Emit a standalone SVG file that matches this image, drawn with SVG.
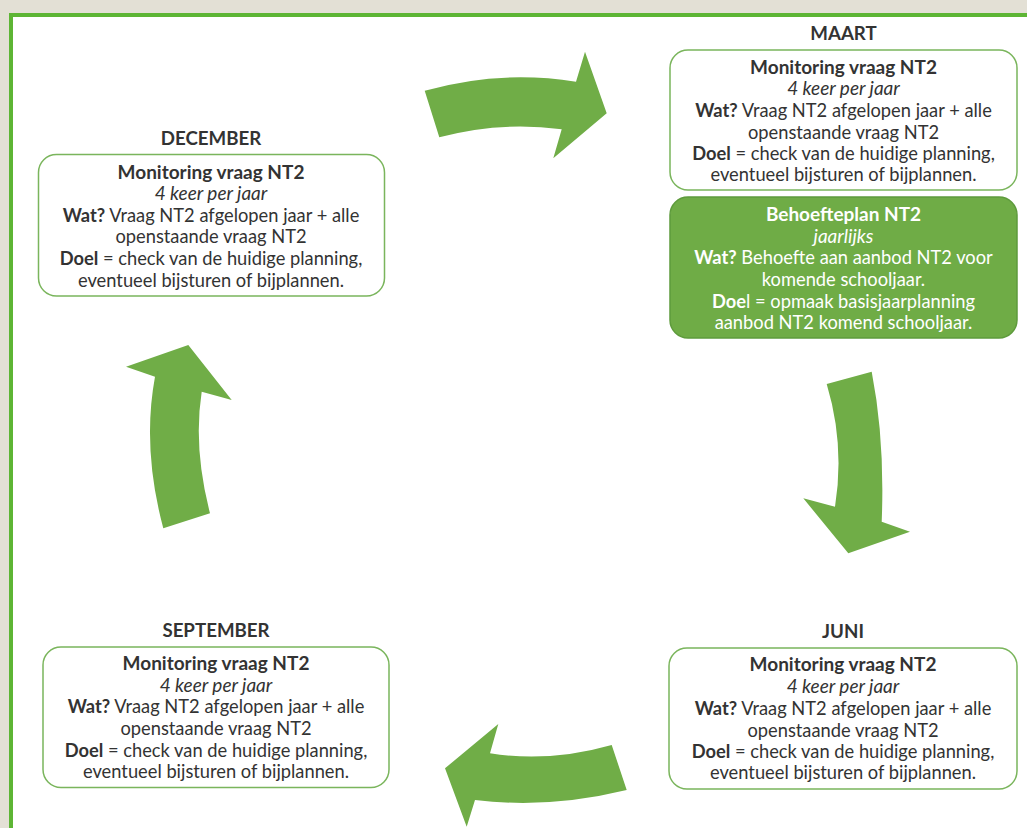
<svg xmlns="http://www.w3.org/2000/svg" width="1027" height="828" viewBox="0 0 1027 828">
<style>
.t{font-family:Lato,"Open Sans","Liberation Sans",sans-serif;fill:#333;text-anchor:middle}
.h{font-size:18.7px;font-weight:bold}
.b{font-size:18.3px}
.bb{font-weight:bold}
.hd{font-weight:bold;font-size:19px}
.i{font-style:italic;font-size:19px}
.box{fill:#fff;stroke:#7ab55c;stroke-width:1.5}
.gbox{fill:#6fac46;stroke:#5e9b3c;stroke-width:1.5}
.w{fill:#fff}
.arrow{fill:#70ad47}
</style>
<rect x="0" y="0" width="1027" height="828" fill="#e3e0d5"/>
<rect x="11" y="15" width="1030" height="830" fill="#fff" stroke="#5db534" stroke-width="4"/>

<g id="connectors">
<path class="arrow" d="M424.7,90.7 Q500,69.5 576,81.7 L585,51.7 L606.7,113.3 L553.3,158.3 L561.7,129.3 Q500,121 439.3,137.3 Z"/>
<path class="arrow" d="M826.7,384 L871.7,371.7 Q885,440 881.7,521.7 L910,531.7 L848.3,553.3 L803.3,498.3 L835,506.7 Q845,445 826.7,384 Z"/>
<path class="arrow" d="M611.7,745 Q549.2,762.8 490,753.3 L498.3,724 L445,768.3 L466.7,826.7 L475,800 Q549,809 626.7,790 Z"/>
<path class="arrow" d="M163.3,528.3 L210,513.3 Q193,448 201.7,391.7 L231.7,400 L188.3,345 L126,366.7 L155,376.7 Q141.8,448 163.3,528.3 Z"/>
</g>

<g id="december">
<text class="t h" x="211" y="145">DECEMBER</text>
<rect class="box" x="38.5" y="154.5" width="346" height="141.5" rx="18"/>
<text class="t b" x="211"><tspan class="hd" x="211" y="178.5">Monitoring vraag NT2</tspan><tspan class="i" x="211" y="200">4 keer per jaar</tspan><tspan x="211" y="221.5"><tspan class="bb">Wat?</tspan> Vraag NT2 afgelopen jaar + alle</tspan><tspan x="211" y="243">openstaande vraag NT2</tspan><tspan x="211" y="265"><tspan class="bb">Doel</tspan> = check van de huidige planning,</tspan><tspan x="211" y="286.5">eventueel bijsturen of bijplannen.</tspan></text>
</g>

<g id="maart">
<text class="t h" x="843.5" y="39.5">MAART</text>
<rect class="box" x="670" y="50" width="347" height="140" rx="18"/>
<text class="t b" x="843.5"><tspan class="hd" x="843.5" y="73.5">Monitoring vraag NT2</tspan><tspan class="i" x="843.5" y="95">4 keer per jaar</tspan><tspan x="843.5" y="116.5"><tspan class="bb">Wat?</tspan> Vraag NT2 afgelopen jaar + alle</tspan><tspan x="843.5" y="138.5">openstaande vraag NT2</tspan><tspan x="843.5" y="160"><tspan class="bb">Doel</tspan> = check van de huidige planning,</tspan><tspan x="843.5" y="181">eventueel bijsturen of bijplannen.</tspan></text>
</g>

<g id="behoefteplan">
<rect class="gbox" x="670" y="197" width="347" height="141" rx="18"/>
<text class="t b w" x="843.5"><tspan class="hd" x="843.5" y="221">Behoefteplan NT2</tspan><tspan class="i" x="843.5" y="242.5">jaarlijks</tspan><tspan x="843.5" y="264"><tspan class="bb">Wat?</tspan> Behoefte aan aanbod NT2 voor</tspan><tspan x="843.5" y="286">komende schooljaar.</tspan><tspan x="843.5" y="307.5"><tspan class="bb">Doe</tspan>l = opmaak basisjaarplanning</tspan><tspan x="843.5" y="328.5">aanbod NT2 komend schooljaar.</tspan></text>
</g>

<g id="juni">
<text class="t h" x="843" y="638">JUNI</text>
<rect class="box" x="669" y="648" width="348" height="141" rx="18"/>
<text class="t b" x="843"><tspan class="hd" x="843" y="671">Monitoring vraag NT2</tspan><tspan class="i" x="843" y="692.5">4 keer per jaar</tspan><tspan x="843" y="715"><tspan class="bb">Wat?</tspan> Vraag NT2 afgelopen jaar + alle</tspan><tspan x="843" y="736.5">openstaande vraag NT2</tspan><tspan x="843" y="757.5"><tspan class="bb">Doel</tspan> = check van de huidige planning,</tspan><tspan x="843" y="779">eventueel bijsturen of bijplannen.</tspan></text>
</g>

<g id="september">
<text class="t h" x="216" y="637">SEPTEMBER</text>
<rect class="box" x="43" y="647" width="346" height="140.5" rx="18"/>
<text class="t b" x="216"><tspan class="hd" x="216" y="670">Monitoring vraag NT2</tspan><tspan class="i" x="216" y="692">4 keer per jaar</tspan><tspan x="216" y="713"><tspan class="bb">Wat?</tspan> Vraag NT2 afgelopen jaar + alle</tspan><tspan x="216" y="735"><tspan>openstaande vraag NT2</tspan></tspan><tspan x="216" y="756.5"><tspan class="bb">Doel</tspan> = check van de huidige planning,</tspan><tspan x="216" y="777.5">eventueel bijsturen of bijplannen.</tspan></text>
</g>
</svg>
